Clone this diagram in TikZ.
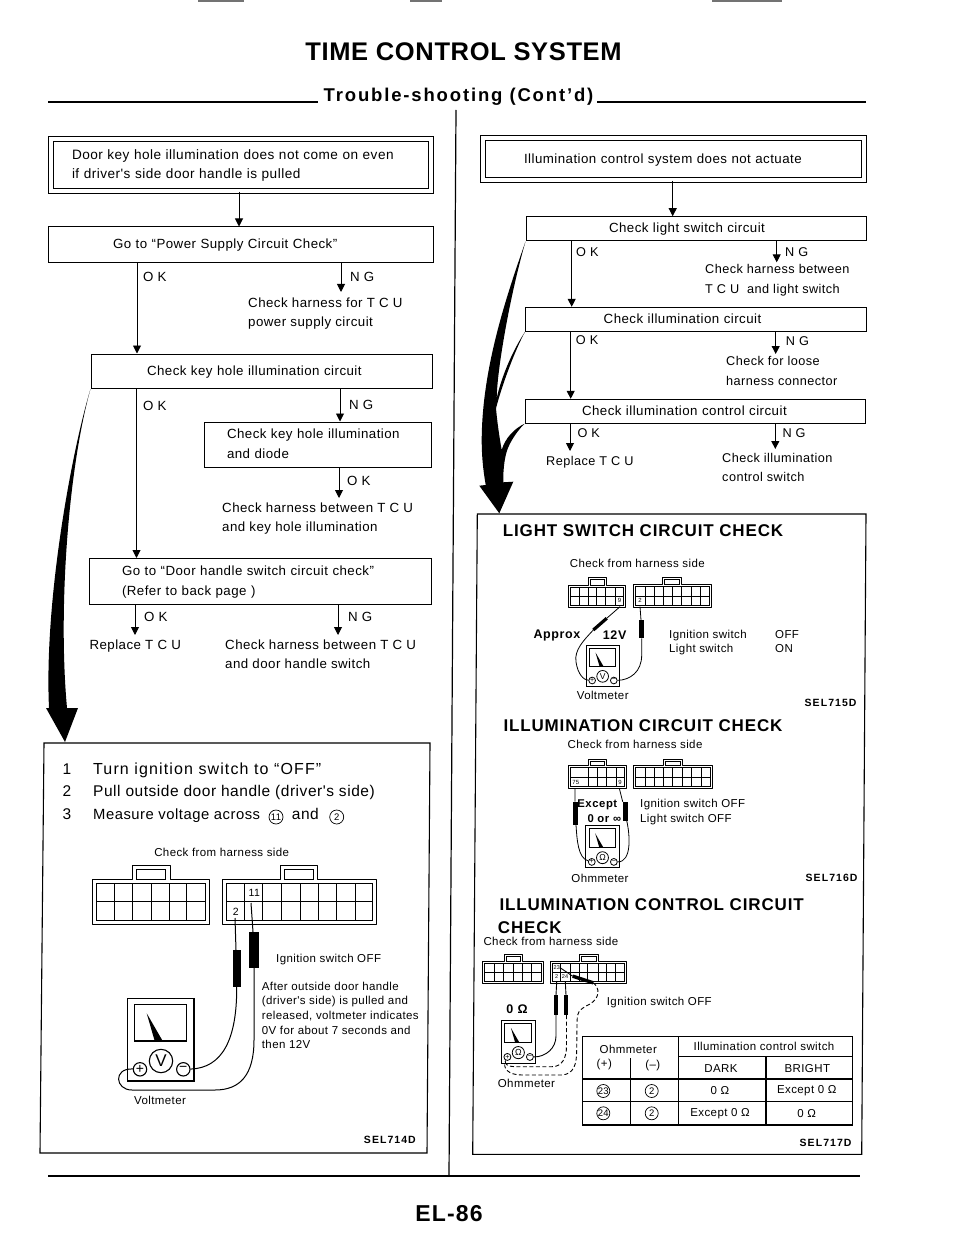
\documentclass[tikz,border=0pt]{standalone}
\usepackage{fontspec}
\usetikzlibrary{arrows.meta,calc}
\setmainfont{Liberation Sans}
\newfontfamily\fn[LetterSpace=3.5]{Liberation Sans}
\newfontfamily\fb[LetterSpace=5]{Liberation Sans Bold}
\newfontfamily\fs[LetterSpace=10]{Liberation Sans Bold}
\newcommand\sz[2]{\fontsize{#1}{#2}\selectfont}
\tikzset{
 x=1pt,y=-1pt,
 arr/.style={line width=.95pt,-{Triangle[length=8pt,width=8pt]}},
 tx/.style={inner sep=0pt,anchor=west,align=left,font=\fn\sz{13.3}{19.5}},
 txr/.style={inner sep=0pt,anchor=west,align=left,font=\fn\sz{12.7}{19.5}},
 small/.style={inner sep=0pt,anchor=west,align=left,font=\fn\sz{11.5}{14.6}},
 smallc/.style={inner sep=0pt,anchor=center,align=center,font=\fn\sz{11.5}{14}},
 stepn/.style={inner sep=0pt,anchor=west,font=\fn\sz{15.5}{18}},
 numn/.style={inner sep=0pt,font=\fn\sz{15.5}{18}},
 head/.style={inner sep=0pt,anchor=west,font=\fb\sz{17}{20}},
 boldc/.style={inner sep=0pt,anchor=center,font=\fb\sz{11.3}{15}},
 code/.style={inner sep=0pt,anchor=east,font=\fs\sz{10.5}{13}},
 flow/.style={draw,line width=1pt,rectangle,align=left,inner ysep=0pt,font=\fn\sz{13.3}{19.5}},
 numc/.style={draw,circle,line width=.7pt,inner sep=0pt,minimum size=#1,font=\fn\sz{9.5}{10}},
 numc/.default=13pt,
 dwire/.style={line width=.9pt,dash pattern=on 4pt off 2.5pt},
 tbl/.style={line width=1.3pt},
 txc/.style={inner sep=0pt,anchor=center,align=center,font=\fn\sz{11.5}{14}},
 pinb/.style={inner sep=0pt,font=\fn\sz{10.5}{12}},
 pins/.style={inner sep=0pt,font=\fn\sz{6}{7}},
}
\newcommand\flowbox[8][]{%
 \pgfmathsetmacro\tw{#5-#3-2*#7}\pgfmathsetmacro\mw{#5-#3}\pgfmathsetmacro\mh{#6-#4}%
 \pgfmathsetmacro\cx{(#3+#5)/2}\pgfmathsetmacro\cy{(#4+#6)/2}%
 \node[flow,#1,text width=\tw pt,inner xsep=#7pt,minimum width=\mw pt,minimum height=\mh pt] (#2) at (\cx,\cy) {#8};}
\newcommand\farrow[3]{\coordinate (tmpx) at (#2,0); \draw[arr] (#1.south -| tmpx) -- (#3 -| tmpx);}
\newcommand\plug[8]{%
 \pgfmathsetmacro\ins{0.09*(#4-#2)}\pgfmathsetmacro\mid{(#2+#4)/2}%
 \draw[line join=round] (#1,#2) -- (#5,#2) -- (#5,#7) -- (#6,#7) -- (#6,#2) -- (#3,#2) -- (#3,#4) -- (#1,#4) -- cycle;
 \draw ({#1+\ins},{#2+\ins}) rectangle ({#3-\ins},{#4-\ins});
 \draw ({#5+\ins},{#7+\ins}) rectangle ({#6-\ins},#2);
 \draw ({#1+\ins},\mid) -- ({#3-\ins},\mid);
 \foreach \v in {#8} {\draw (\v,{#2+\ins}) -- (\v,{#4-\ins});}}
\newcommand\meter[6]{%
 \begin{scope}[shift={(#2,#3)},scale=#4]
  \draw[line width=#5] (0,0) rectangle (66.3,82.7);
  \draw[line width=#5] (7,6) rectangle (59,42.7);
  \fill (19,15) -- (27,42.7) -- (35,42.7) -- cycle;
  \node[draw,circle,line width=#5,minimum size={23.4*#4},inner sep=0pt,font=\fn\sz{\fpeval{17*#4}}{12}] (#1c) at (33.3,62.7) {#6};
  \node[draw,circle,line width=#5,minimum size={13.4*#4},inner sep=0pt,font=\fn\sz{\fpeval{14*#4}}{10}] (#1p) at (12.3,71) {+};
  \node[draw,circle,line width=#5,minimum size={13.4*#4},inner sep=0pt,font=\fn\sz{\fpeval{14*#4}}{10}] (#1m) at (55.6,71) {−};
 \end{scope}}
\begin{document}
\begin{tikzpicture}
\useasboundingbox (0,0) rectangle (960,1246);
\fill[white] (0,0) rectangle (960,1246);
% page furniture
\draw[line width=2pt,black!55] (198,1) -- (244,1) (410,1) -- (442,1) (712,1) -- (782,1);
\node[inner sep=0pt,anchor=base,font=\fb\sz{25.5}{28}\addfontfeatures{LetterSpace=2.5}] (title) at (463.5,61) {TIME CONTROL SYSTEM};
\node[inner sep=0pt,anchor=base,font=\fb\sz{18.5}{24}\addfontfeatures{LetterSpace=10}] (sub) at (458.5,101.7) {Trouble-shooting (Cont’d)};
\coordinate (rl) at (48,102); \coordinate (rlb) at (318,102); \coordinate (rr) at (866,102); \coordinate (rrb) at (597,102);
\draw[line width=1.6pt] (rl) -- (rlb) (rr) -- (rrb);
\coordinate (bl) at (48,1176); \coordinate (br) at (860,1176);
\draw[line width=1.6pt] (bl) -- (br);
\coordinate (ct) at (456,110); \coordinate (cb) at (449,1176);
\draw[line width=1.2pt] (ct) -- (cb);
\node[inner sep=0pt,anchor=base,font=\fb\sz{23}{26}] (pg) at (449,1221.7) {EL-86};

% ---------- left flow ----------
\flowbox[double,double distance=4pt,font=\fn\sz{13.6}{18.5}]{l1}{51}{139}{431}{191.5}{21}{\strut Door key hole illumination does not come on even\\\strut if driver's side door handle is pulled}
\flowbox{l2}{48}{227}{433}{262.5}{65}{\strut Go to “Power Supply Circuit Check”}
\flowbox{l3}{91}{354}{432}{388.5}{56}{\strut Check key hole illumination circuit}
\flowbox{l4}{204}{422}{431}{467}{23}{\strut Check key hole illumination\\\strut and diode}
\flowbox{l5}{89}{558.5}{431}{604.3}{33}{\strut Go to “Door handle switch circuit check”\\\strut (Refer to back page )}
\node[tx] (lng1) at (248,313) {\strut Check harness for T C U\\\strut power supply circuit};
\node[tx] (lok2) at (222,518) {\strut Check harness between T C U\\\strut and key hole illumination};
\node[tx] (lrep) at (89.3,645.5) {\strut Replace T C U};
\node[tx] (lng3) at (225,655) {\strut Check harness between T C U\\\strut and door handle switch};
\farrow{l1}{239}{l2.north}
\farrow{l2}{137}{l3.north}
\coordinate (lng1t) at (341,292);
\farrow{l2}{341}{lng1t}
\farrow{l3}{136.5}{l5.north}
\farrow{l3}{340}{l4.north}
\coordinate (lok2t) at (339,498);
\farrow{l4}{339}{lok2t}
\coordinate (lrept) at (135,635);
\farrow{l5}{135}{lrept}
\farrow{l5}{338}{lrept}
\node[tx] (lk1) at (143,278) {\strut O K};
\node[tx] (lg1) at (350,278) {\strut N G};
\node[tx] (lk2) at (143,407) {\strut O K};
\node[tx] (lg2) at (349,406) {\strut N G};
\node[tx] (lk3) at (347,482) {\strut O K};
\node[tx] (lk4) at (144,617.5) {\strut O K};
\node[tx] (lg4) at (348,618) {\strut N G};
% big arrow left
\fill (l3.south west) .. controls (72,450) and (44,600) .. (49,708) -- (46,708) -- (65,742) -- (78,708) -- (67,708)
  .. controls (58,610) and (68,470) .. (l3.south west) -- cycle;

% ---------- left check panel ----------
\draw[line width=1.1pt] (44,743) -- (430,743) -- (427,1153) -- (40,1153) -- cycle;
\node[numn] (n1) at (67,771) {\strut 1};
\node[numn] (n2) at (67,793) {\strut 2};
\node[numn] (n3) at (67,816) {\strut 3};
\node[stepn,font=\fn\sz{16}{18}\addfontfeatures{LetterSpace=7}] (s1) at (93,771) {\strut Turn ignition switch to “OFF”};
\node[stepn] (s2) at (93,793) {\strut Pull outside door handle (driver's side)};
\node[stepn,font=\fn\sz{14.8}{18}] (s3) at (93,816) {\strut Measure voltage across};
\node[numc=14pt] (c11) at (276,817) {11};
\node[stepn] (s3b) at (291.7,816) {\strut and};
\node[numc=14pt] (c2) at (336.7,817) {2};
\node[smallc] (lchk) at (221.7,853.3) {\strut Check from harness side};
\begin{scope}[line width=1pt]
\plug{92.3}{879}{209.3}{924.3}{132.7}{170}{865}{114.3,132.7,151,169.3,186.7}
\plug{222.7}{879}{376.7}{924.3}{280.7}{317.3}{865}{244.3,262.3,281.7,300,318.3,336.7,355}
\end{scope}
\node[pinb] (pin11) at (254.3,892.7) {11};
\node[pinb] (pin2) at (235.7,911.7) {2};
\meter{vm}{127.7}{998.3}{1}{1.1pt}{V}
\draw[line width=1pt] (235,918) -- (236,950) (236.7,987) .. controls (237,1040) and (222,1068) .. (vmm);
\fill (233,950) rectangle (240.5,987);
\draw[line width=1pt] (251,903) -- (253,932) (254,968) -- (254,1040) .. controls (254,1075) and (240,1090) .. (215,1090) -- (132,1090) .. controls (115,1090) and (113,1068) .. (vmp);
\fill (248.5,932) rectangle (259,968);
\node[small] (lign) at (276,960) {\strut Ignition switch OFF};
\node[small] (lafter) at (261.7,1016.5) {\strut After outside door handle\\(driver's side) is pulled and\\released, voltmeter indicates\\0V for about 7 seconds and\\then 12V\strut};
\node[smallc] (lvm) at (160,1102) {\strut Voltmeter};
\node[code] (c714) at (416,1140) {SEL714D};

% ---------- right flow ----------
\flowbox[double,double distance=4pt]{r1}{483}{138.5}{864}{180.5}{41}{\strut Illumination control system does not actuate}
\flowbox{r2}{526}{216.7}{866.7}{241}{83}{\strut Check light switch circuit}
\flowbox{r3}{525.7}{307.3}{866.7}{331}{78}{\strut Check illumination circuit}
\flowbox{r4}{525}{399.3}{865.7}{423.3}{57}{\strut Check illumination control circuit}
\node[txr] (rng1) at (705,279.7) {\strut Check harness between\\\strut T C U\ \ and light switch};
\node[txr] (rng2) at (726,371.7) {\strut Check for loose\\\strut harness connector};
\node[txr] (rrep) at (546,461.7) {\strut Replace T C U};
\node[txr] (rng3) at (722,468) {\strut Check illumination\\\strut control switch};
\farrow{r1}{672.7}{r2.north}
\farrow{r2}{571.7}{r3.north}
\coordinate (rng1t) at (776.7,262.3);
\farrow{r2}{776.7}{rng1t}
\farrow{r3}{570.7}{r4.north}
\coordinate (rng2t) at (775.7,354);
\farrow{r3}{775.7}{rng2t}
\coordinate (rrept) at (570,451);
\farrow{r4}{570}{rrept}
\coordinate (rng3t) at (775.3,449);
\farrow{r4}{775.3}{rng3t}
\node[txr] (rk1) at (576,252.3) {\strut O K};
\node[txr] (rg1) at (785,252.7) {\strut N G};
\node[txr] (rk2) at (575.7,341) {\strut O K};
\node[txr] (rg2) at (785.7,342) {\strut N G};
\node[txr] (rk3) at (577.3,434) {\strut O K};
\node[txr] (rg3) at (782.3,433.3) {\strut N G};
% big merged arrow right
\fill (r2.south west) .. controls (505,300) and (482,370) .. (481.7,440) .. controls (481.7,460) and (484,475) .. (485.7,485) -- (479.3,485.7) -- (499.3,513.3) -- (513.3,481.7) -- (503.3,482.3)
  .. controls (503,468) and (505,455) .. (508,448) .. controls (512,438) and (520,428) .. (r4.south west)
  .. controls (515,428) and (505,438) .. (501.7,450) .. controls (499,435) and (497,420) .. (496,408.3)
  .. controls (502,385) and (515,350) .. (r3.south west)
  .. controls (513,350) and (502,375) .. (496.7,398) .. controls (497,370) and (510,295) .. (r2.south west) -- cycle;

% ---------- right check panel ----------
\draw[line width=1.1pt] (477.3,514) -- (866,514) -- (861.7,1154.3) -- (472.7,1154.3) -- cycle;
\node[head] (h1) at (502.7,531) {LIGHT SWITCH CIRCUIT CHECK};
\node[smallc] (rchk1) at (637.3,564.3) {\strut Check from harness side};
\begin{scope}[line width=.7pt]
\plug{568.3}{585}{625.7}{607.7}{588.3}{606.7}{577.7}{579,588.3,596.7,605.7,615}
\plug{633.3}{584}{711.7}{607.7}{662.7}{681.7}{577.7}{645.3,654.3,663.3,672.7,681.7,691.7,700.7}
\end{scope}
\node[pins] (pa9) at (619.5,600) {9};
\node[pins] (pb2) at (640,600) {2};
\meter{vs}{586}{645}{.5}{.8pt}{V}
\draw[line width=.8pt] (620,606.7) -- (606.7,618.3) (593.3,630) .. controls (584,640) and (574,650) .. (576,662) .. controls (578,675) and (584,680) .. (vsp);
\draw[line width=3.2pt] (606.7,618.3) -- (593.3,630);
\draw[line width=.8pt] (640,606.7) -- (641,620) (641.7,638.3) -- (641.7,655) .. controls (641.7,672) and (630,680) .. (vsm);
\fill (639,620) rectangle (643.6,638.3);
\node[boldc,anchor=west,font=\fb\sz{12.5}{15}] (ap) at (533.3,635) {Approx};
\node[boldc,anchor=west,font=\fb\sz{12.5}{15}] (v12) at (602.7,635) {12V};
\node[small] (rsw1) at (669,642.5) {\strut Ignition switch\\Light switch\strut};
\node[small] (rsw2) at (775,642.5) {\strut OFF\\ON\strut};
\node[smallc] (rvm) at (602.7,696.7) {\strut Voltmeter};
\node[code] (c715) at (856.7,702.7) {SEL715D};

\node[head] (h2) at (503.3,726) {ILLUMINATION CIRCUIT CHECK};
\node[smallc] (rchk2) at (635,745.7) {\strut Check from harness side};
\begin{scope}[line width=.7pt]
\plug{568.3}{765.7}{626.7}{788.3}{588.3}{606.7}{759}{588,597,606.7,616}
\plug{633.3}{765.7}{712.3}{788.3}{663.3}{682.3}{759}{645,654,663,672.7,682,691.7,701}
\end{scope}
\node[pins] (pc75) at (575.7,782.3) {75};
\node[pins] (pc9) at (620,782.3) {9};
\meter{om}{585.5}{825.7}{.51}{.8pt}{Ω}
\draw[line width=.8pt] (575,788) -- (575,801.7) (576,825) .. controls (577,840) and (578,858) .. (omp);
\draw[line width=.8pt] (619.3,788.3) -- (622.7,801.7) (626.7,820.7) .. controls (630,835) and (632,862) .. (omm);
\fill (573.3,801.7) rectangle (577.5,825);
\fill (622.8,801.7) rectangle (627.8,820.7);
\node[boldc] (exc) at (597.3,804.3) {Except};
\node[boldc] (zi) at (604.3,818.3) {0 or ∞};
\node[small] (rsw3) at (640,812) {\strut Ignition switch OFF\\Light switch OFF\strut};
\node[smallc] (rom) at (600,880) {\strut Ohmmeter};
\node[code] (c716) at (857.7,878) {SEL716D};

\node[head] (h3) at (499.3,905) {ILLUMINATION CONTROL CIRCUIT};
\node[head] (h3b) at (497.7,927.3) {CHECK};
\node[small] (rchk3) at (483.3,942.3) {\strut Check from harness side};
\begin{scope}[line width=.7pt]
\plug{482.3}{961.5}{543.3}{983.5}{504}{522.7}{954}{494.3,503.3,513.3,522.3,531.7}
\plug{550}{961.5}{626}{983.5}{579}{598}{954}{560.7,570,579,587,598,606,615}
\end{scope}
\node[pins,font=\fn\sz{5.5}{6}] (p23) at (556.7,967.3) {23};
\node[pins,font=\fn\sz{5.5}{6}] (p2) at (556.7,976.5) {2};
\node[pins,font=\fn\sz{5.5}{6}] (p24) at (565,976.5) {24};
\meter{ot}{501}{1020}{.52}{.8pt}{Ω}
\draw[line width=.9pt] (561,968.3) -- (572.7,976.2);
\draw[line width=3.4pt] (572.7,976.2) -- (593.3,982.8);
\draw[dwire] (593.3,982.7) .. controls (600,988) and (600,998) .. (590,1004) .. controls (578,1010) and (577,1012) .. (577,1025) -- (576.7,1050) .. controls (576.7,1064) and (574,1074) .. (562,1075) -- (522,1075) .. controls (508,1075) and (502,1068) .. (otp);
\draw[line width=.9pt] (556.7,981.7) -- (556,995) (556,1015) -- (556,1036) .. controls (556,1048) and (546,1057) .. (otm);
\fill (553.6,995) rectangle (558.4,1015);
\draw[line width=.9pt] (565.3,981.7) -- (566,995);
\fill (563.6,995) rectangle (568.4,1015);
\draw[dwire] (566.5,1015) -- (566.5,1046) .. controls (566.5,1058) and (562,1066.7) .. (552,1066.7) -- (515,1066.7) .. controls (508,1066.7) and (504,1064) .. (otp);
\node[boldc,font=\fb\sz{12.5}{15}] (oo) at (517,1009.3) {0 Ω};
\node[small] (rign3) at (606.7,1002.7) {\strut Ignition switch OFF};
\node[small] (rot) at (497.7,1084.3) {\strut Ohmmeter};
% table
\coordinate (ta) at (582.3,1036.7); \coordinate (tb) at (852.3,1125);
\draw[tbl] (ta) rectangle (tb);
\draw[tbl] (678.3,1036.7) -- (678.3,1125) (766,1056.7) -- (766,1125) (678.3,1056.7) -- (852.3,1056.7);
\draw[line width=.8pt] (630,1058.3) -- (630,1125);
\draw[tbl] (582.3,1079) -- (852.3,1079) (582.3,1101.7) -- (852.3,1101.7);
\node[txc] (t1) at (628.3,1049) {Ohmmeter};
\node[txc] (t2) at (604.3,1065) {(+)};
\node[txc] (t3) at (652.7,1066) {(–)};
\node[txc] (t4) at (764,1046) {Illumination control switch};
\node[txc] (t5) at (721,1068.5) {DARK};
\node[txc] (t6) at (807.3,1068.5) {BRIGHT};
\node[numc] (t7) at (603.3,1091) {23};
\node[numc] (t8) at (651.7,1091) {2};
\node[txc] (t9) at (720,1091) {0 Ω};
\node[txc] (t10) at (806.7,1091) {Except 0 Ω};
\node[numc] (t11) at (603.3,1113.3) {24};
\node[numc] (t12) at (651.7,1113.3) {2};
\node[txc] (t13) at (720,1113.3) {Except 0 Ω};
\node[txc] (t14) at (806.7,1113.3) {0 Ω};
\node[code] (c717) at (851.7,1142.7) {SEL717D};
\end{tikzpicture}
\end{document}
